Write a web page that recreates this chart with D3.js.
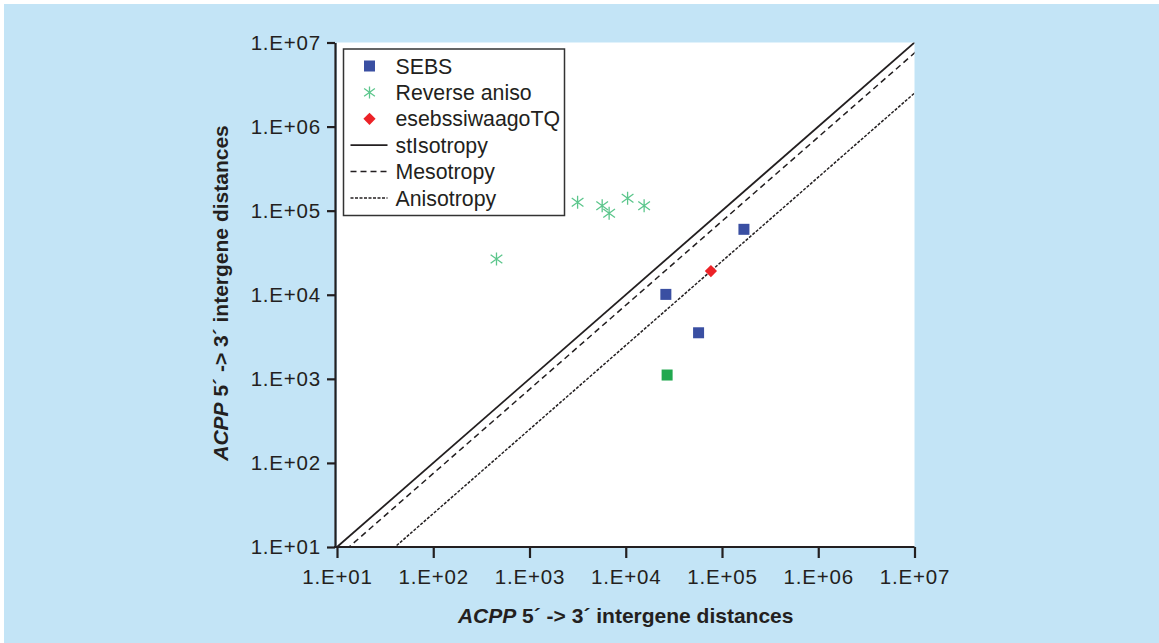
<!DOCTYPE html>
<html>
<head>
<meta charset="utf-8">
<script src="https://cdn.jsdelivr.net/npm/d3@7"></script>
<style>
  html, body { margin: 0; padding: 0; background: #fff; }
  svg { display: block; }
  text { font-family: "Liberation Sans", Arial, Helvetica, sans-serif; fill: #231f20; }
</style>
</head>
<body>
<div id="chart"></div>
<script>
// tick labels (log decades)
var tickValues = [1e1, 1e2, 1e3, 1e4, 1e5, 1e6, 1e7];
var tickLabels = ["1.E+01", "1.E+02", "1.E+03", "1.E+04", "1.E+05", "1.E+06", "1.E+07"];

// SEBS points [x, y]
var sebs = [[169000, 60000], [26100, 10100], [57100, 3530]];
// extra green square (no legend entry)
var greenSq = [[26900, 1110]];
// Reverse aniso points
var reverseAniso = [[3160, 125700], [5690, 114500], [6720, 93100], [10450, 140300], [15520, 114500], [454, 26600]];
// esebssiwaagoTQ point
var esebs = [[76700, 19100]];

// reference lines: y = k * x
var refNames = ["stIsotropy", "Mesotropy", "Anisotropy"];
var refFactors = [1, 0.75, 0.25];
var refDash = [null, "6,4", "3,1.5"];

var W = 1159, H = 643;
var margin = {left: 337, top: 42.5, right: 1159 - 914.5, bottom: 643 - 547};
var width = W - margin.left - margin.right,
    height = H - margin.top - margin.bottom;

var svg = d3.select("#chart").append("svg")
  .attr("width", W).attr("height", H);

// light blue panel
svg.append("rect").attr("x", 4).attr("y", 4).attr("width", W - 4).attr("height", H - 4)
  .attr("fill", "#c3e4f6");

var g = svg.append("g").attr("transform", "translate(" + margin.left + "," + margin.top + ")");

var x = d3.scaleLog().domain([1e1, 1e7]).range([0, width]);
var y = d3.scaleLog().domain([1e1, 1e7]).range([height, 0]);

// white plot area
g.append("rect").attr("width", width).attr("height", height).attr("fill", "#fff");

g.append("clipPath").attr("id", "clip")
  .append("rect").attr("width", width).attr("height", height);

// reference lines
var lines = g.append("g").attr("clip-path", "url(#clip)");
refFactors.forEach(function(k, i) {
  var pts = [[1, k * 1], [1e8, k * 1e8]];
  lines.append("path")
    .attr("d", d3.line().x(function(d) { return x(d[0]); }).y(function(d) { return y(d[1]); })(pts))
    .attr("fill", "none")
    .attr("stroke", "#231f20")
    .attr("stroke-width", i == 0 ? 1.8 : 1.5)
    .attr("stroke-dasharray", refDash[i]);
});

// axes
var fmt = function(d) { return tickLabels[tickValues.indexOf(d)]; };
var xAxis = g.append("g").attr("transform", "translate(0," + height + ")")
  .call(d3.axisBottom(x).tickValues(tickValues).tickFormat(fmt).tickSize(11).tickSizeOuter(0));
var yAxis = g.append("g").attr("transform", "translate(-2,0)")
  .call(d3.axisLeft(y).tickValues(tickValues).tickFormat(fmt).tickSize(8).tickSizeOuter(0));

[xAxis, yAxis].forEach(function(a) {
  a.select(".domain").attr("stroke", "#231f20").attr("stroke-width", 2.2);
  a.selectAll(".tick line").attr("stroke", "#231f20").attr("stroke-width", 2.2);
  a.selectAll(".tick text").attr("font-size", 20.5).attr("fill", "#231f20")
    .attr("font-family", "Liberation Sans, Arial, sans-serif").style("letter-spacing", "0.8px");
});
xAxis.select(".domain").attr("d", "M-3,0H" + width);
xAxis.selectAll(".tick text").attr("y", 22);
yAxis.selectAll(".tick text").attr("x", -14);

// points
var sq = 11;
g.selectAll(".sebs").data(sebs).enter().append("rect")
  .attr("x", function(d) { return x(d[0]) - sq / 2; })
  .attr("y", function(d) { return y(d[1]) - sq / 2; })
  .attr("width", sq).attr("height", sq).attr("fill", "#3a4fa2");

g.selectAll(".green").data(greenSq).enter().append("rect")
  .attr("x", function(d) { return x(d[0]) - sq / 2; })
  .attr("y", function(d) { return y(d[1]) - sq / 2; })
  .attr("width", sq).attr("height", sq).attr("fill", "#21a84f");

function asterisk(sel, cx, cy, r) {
  sel.append("path")
    .attr("d", "M" + cx + "," + (cy - r) + "V" + (cy + r) +
      "M" + (cx - r * 0.9) + "," + (cy - r * 0.65) + "L" + (cx + r * 0.9) + "," + (cy + r * 0.65) +
      "M" + (cx - r * 0.9) + "," + (cy + r * 0.65) + "L" + (cx + r * 0.9) + "," + (cy - r * 0.65))
    .attr("stroke", "#5cc68c").attr("stroke-width", 1.3).attr("fill", "none");
}
reverseAniso.forEach(function(d) { asterisk(g, x(d[0]), y(d[1]), 6.5); });

var diamond = d3.symbol().type(d3.symbolDiamond2).size(95);
g.selectAll(".esebs").data(esebs).enter().append("path")
  .attr("d", diamond)
  .attr("transform", function(d) { return "translate(" + x(d[0]) + "," + y(d[1]) + ")"; })
  .attr("fill", "#ec2227");

// legend
var leg = svg.append("g");
leg.append("rect").attr("x", 343.5).attr("y", 49).attr("width", 221).attr("height", 166.5)
  .attr("fill", "#fff").attr("stroke", "#333").attr("stroke-width", 1.5);
var legNames = ["SEBS", "Reverse aniso", "esebssiwaagoTQ"].concat(refNames);
var rowY = function(i) { return 66 + i * 26.4; };
legNames.forEach(function(name, i) {
  leg.append("text").attr("x", 395.5).attr("y", rowY(i)).attr("dy", "0.36em")
    .attr("font-size", 21.3).text(name);
});
leg.append("rect").attr("x", 369.5 - sq / 2).attr("y", rowY(0) - sq / 2)
  .attr("width", sq).attr("height", sq).attr("fill", "#3a4fa2");
asterisk(leg, 369.5, rowY(1), 6);
leg.append("path").attr("d", diamond).attr("transform", "translate(369.5," + rowY(2) + ")")
  .attr("fill", "#ec2227");
refFactors.forEach(function(k, i) {
  leg.append("line").attr("x1", 350.5).attr("x2", 387.5)
    .attr("y1", rowY(3 + i)).attr("y2", rowY(3 + i))
    .attr("stroke", "#231f20").attr("stroke-width", i == 0 ? 1.8 : 1.5)
    .attr("stroke-dasharray", refDash[i]);
});

// axis titles
var xt = svg.append("text").attr("x", 625.7).attr("y", 623).attr("text-anchor", "middle")
  .attr("font-size", 21).attr("font-weight", "bold");
xt.append("tspan").attr("font-style", "italic").text("ACPP");
xt.append("tspan").text(" 5\u00b4 -> 3\u00b4 intergene distances");

var yt = svg.append("text").attr("transform", "translate(228,293) rotate(-90)")
  .attr("text-anchor", "middle").attr("font-size", 21).attr("font-weight", "bold");
yt.append("tspan").attr("font-style", "italic").text("ACPP");
yt.append("tspan").text(" 5\u00b4 -> 3\u00b4 intergene distances");
</script>
</body>
</html>
